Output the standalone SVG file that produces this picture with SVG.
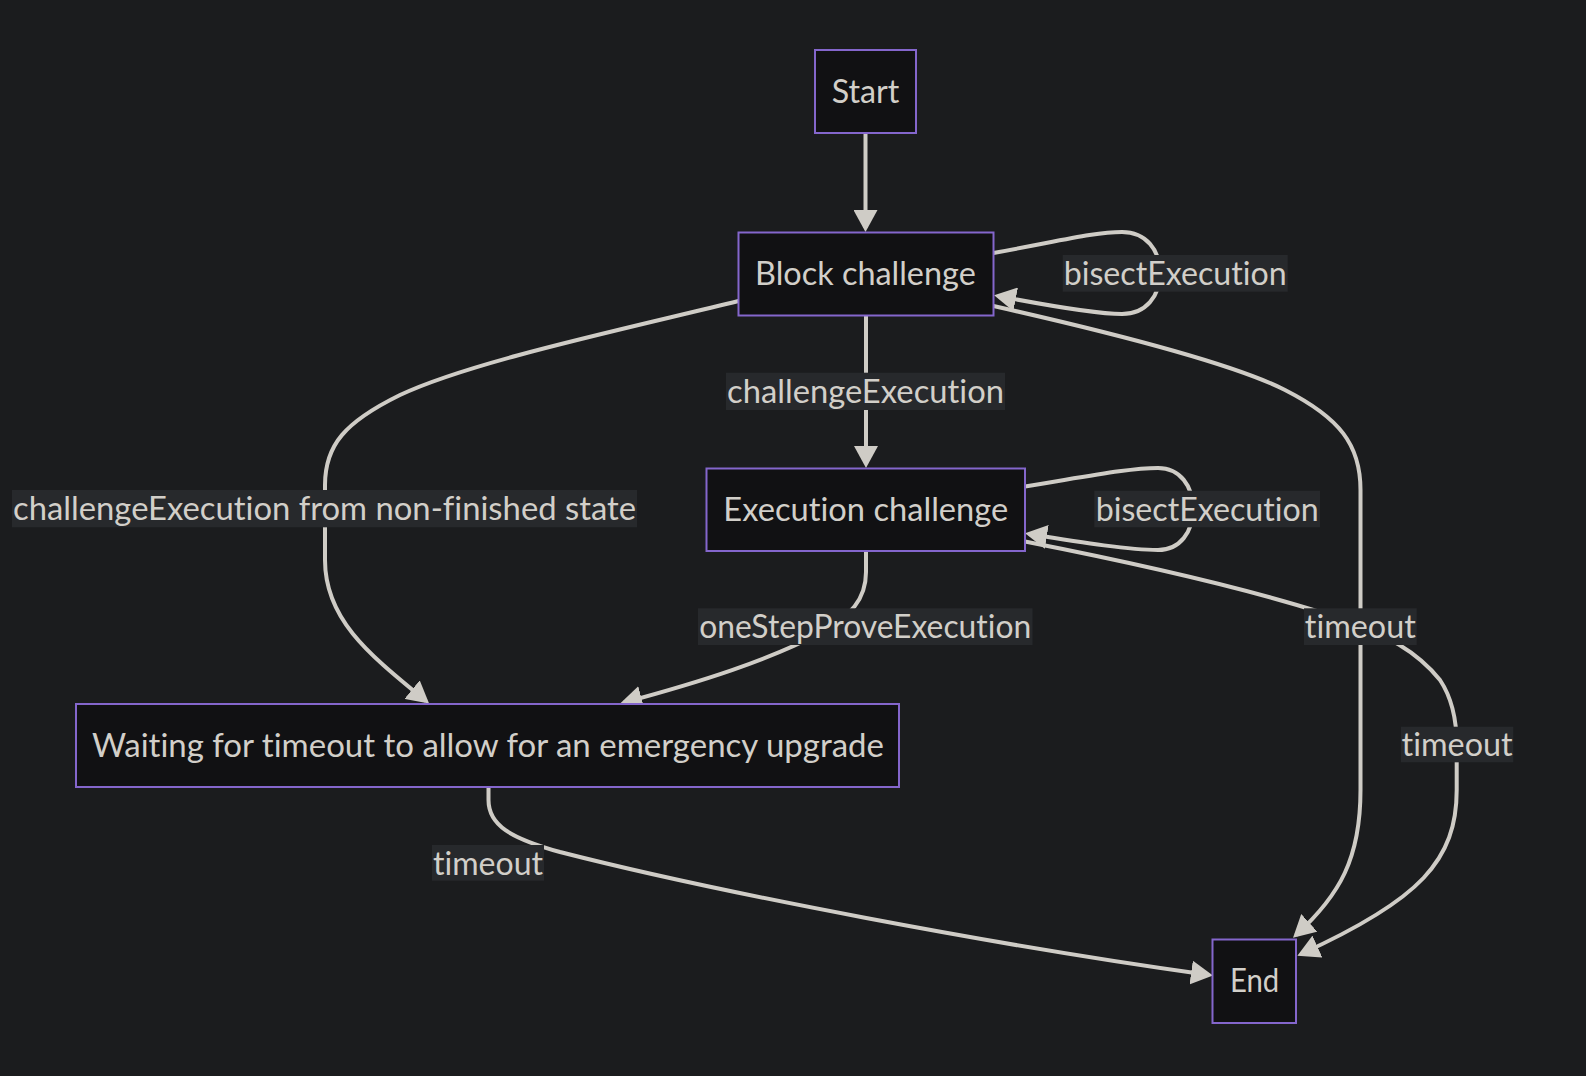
<svg xmlns="http://www.w3.org/2000/svg" width="1586" height="1076" viewBox="0 0 1586 1076">
<style>
.node rect{fill:#111113;stroke:#8466cc;stroke-width:2}
.node text,.lbl text{font-family:Lato,"Liberation Sans",sans-serif;font-size:32px;fill:#d2cfc9;text-anchor:middle;font-variant-ligatures:none;font-feature-settings:"liga" 0,"clig" 0,"dlig" 0}
.edge{fill:none;stroke:#cfccc6;stroke-width:4;marker-end:url(#arrow)}
.lbl rect{fill:#27292c}
</style>
<defs>
<marker id="arrow" viewBox="0 0 22 24" markerWidth="22" markerHeight="24" refX="18" refY="12" orient="auto" markerUnits="userSpaceOnUse"><path d="M0,0 L22,12 L0,24 z" fill="#cfccc6"/></marker>
</defs>
<rect x="0" y="0" width="1586" height="1076" fill="#1b1c1e"/>
<g id="edges">
<path class="edge" d="M865.5,133 L865.5,228"/>
<path class="edge" d="M993.5,253 C1060,241 1095,232 1122,232 C1146,232 1160,250 1160,273 C1160,296 1146,314 1122,314 C1095,314 1050,306 998,296"/>
<path class="edge" d="M866,315.5 L866,464"/>
<path class="edge" d="M738.5,301 C620,330 470,362 400,395 C345,422 325,445 325,485 L325,560 C325,620 370,655 426,701"/>
<path class="edge" d="M1025,486.5 C1090,476 1130,468 1158,468 C1180,468 1193,486 1193,509 C1193,532 1180,550 1158,550 C1130,550 1085,543 1029,534"/>
<path class="edge" d="M866,551 L866,572 C866,600 850,616 822,632 C770,660 700,682 624,702.5"/>
<path class="edge" d="M993.5,306 C1100,330 1230,362 1285,390 C1340,418 1360.5,445 1360.5,490 L1360.5,790 C1360.5,858 1340,895 1296,935"/>
<path class="edge" d="M1025,541.5 C1150,566 1250,590 1320,612 C1390,633 1420,655 1440,680 C1452,698 1456.7,720 1456.7,745 L1456.7,790 C1456.7,860 1420,900 1301,954"/>
<path class="edge" d="M488.5,787 L488.5,800 C488.5,825 510,838 560,852 C720,893 1000,946 1209,975"/>
</g>
<g id="edge-labels">
<g class="lbl"><rect x="1062.7" y="255" width="225" height="36.7"/><text x="1175.2" y="285" textLength="223" lengthAdjust="spacingAndGlyphs">bisectExecution</text></g>
<g class="lbl"><rect x="726" y="372.7" width="279" height="37.3"/><text x="865.5" y="402.7" textLength="277" lengthAdjust="spacingAndGlyphs">challengeExecution</text></g>
<g class="lbl"><rect x="12" y="490" width="625" height="37.3"/><text x="324.5" y="520" textLength="623" lengthAdjust="spacingAndGlyphs">challengeExecution from non-finished state</text></g>
<g class="lbl"><rect x="1094.3" y="490.7" width="225.7" height="36.6"/><text x="1207.2" y="520.7" textLength="223" lengthAdjust="spacingAndGlyphs">bisectExecution</text></g>
<g class="lbl"><rect x="698" y="608.3" width="334.5" height="36.7"/><text x="865.2" y="638.3" textLength="332" lengthAdjust="spacingAndGlyphs">oneStepProveExecution</text></g>
<g class="lbl"><rect x="1304" y="608.3" width="112.7" height="36.7"/><text x="1360.3" y="638.3" textLength="111" lengthAdjust="spacingAndGlyphs">timeout</text></g>
<g class="lbl"><rect x="1401" y="726.7" width="112.3" height="35.6"/><text x="1457.1" y="756.2" textLength="111" lengthAdjust="spacingAndGlyphs">timeout</text></g>
<g class="lbl"><rect x="432" y="845" width="112" height="35.7"/><text x="488" y="874.5" textLength="110" lengthAdjust="spacingAndGlyphs">timeout</text></g>
</g>
<g id="node-start" class="node"><rect x="815" y="50" width="101" height="83"/><text x="865.5" y="102.7" textLength="67.6" lengthAdjust="spacingAndGlyphs">Start</text></g>
<g id="node-block" class="node"><rect x="738.5" y="232.5" width="255" height="83"/><text x="865.4" y="284.5" textLength="220.7" lengthAdjust="spacingAndGlyphs">Block challenge</text></g>
<g id="node-exec" class="node"><rect x="706.5" y="468.5" width="318.5" height="82.5"/><text x="865.8" y="521" textLength="285" lengthAdjust="spacingAndGlyphs">Execution challenge</text></g>
<g id="node-waiting" class="node"><rect x="76" y="704" width="823" height="83"/><text x="488" y="756.5" textLength="792" lengthAdjust="spacingAndGlyphs">Waiting for timeout to allow for an emergency upgrade</text></g>
<g id="node-end" class="node"><rect x="1212.5" y="939.5" width="83.5" height="83.5"/><text x="1254.6" y="991.5" textLength="49.3" lengthAdjust="spacingAndGlyphs">End</text></g>
</svg>
